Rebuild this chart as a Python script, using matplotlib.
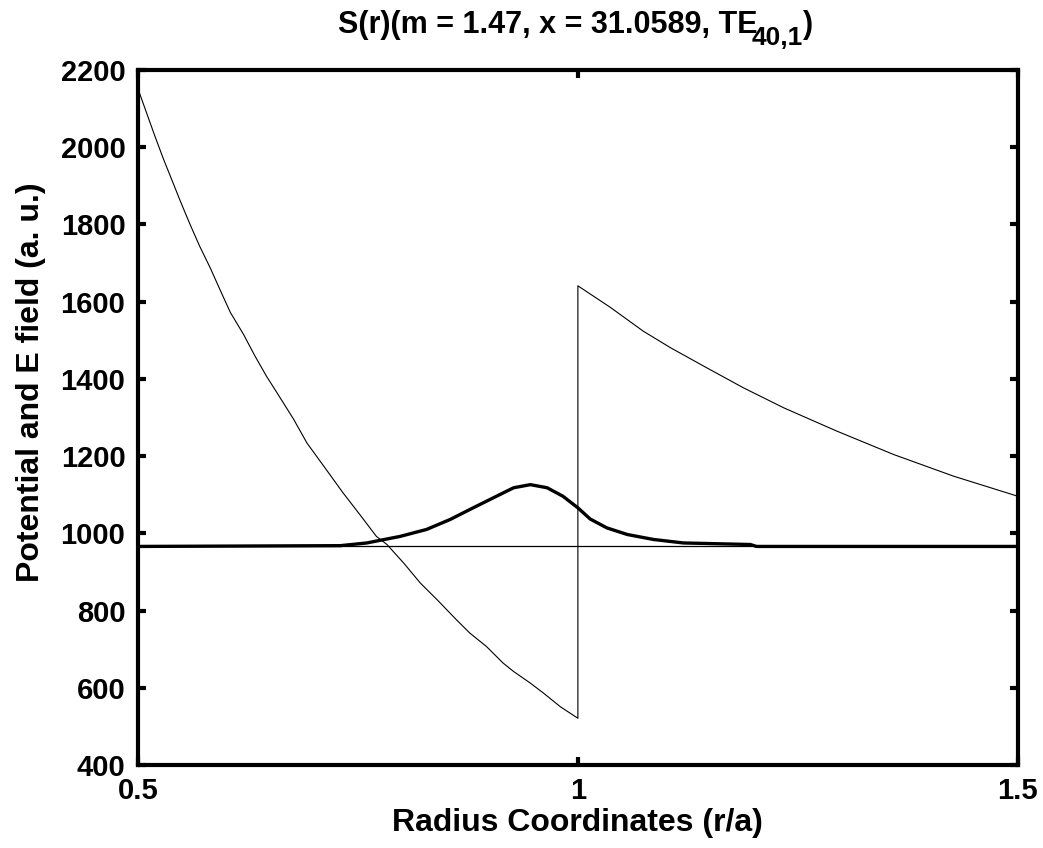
import numpy as np
import matplotlib
matplotlib.use("Agg")
import matplotlib.pyplot as plt

plt.rcParams['font.family'] = ['Liberation Sans', 'DejaVu Sans']
plt.rcParams['font.weight'] = 'bold'

# potencial (linea delgada), con salto en r/a = 1
r_pot = [0.500, 0.519, 0.529, 0.538, 0.548, 0.559, 0.570, 0.582, 0.593,
         0.605, 0.620, 0.633, 0.646, 0.658, 0.677, 0.692, 0.714, 0.733, 0.752,
         0.771, 0.783, 0.802, 0.821, 0.840, 0.862, 0.877, 0.896, 0.915, 0.927,
         0.946, 0.961, 0.980, 1.000,
         1.000, 1.037, 1.074, 1.105, 1.143, 1.188, 1.234, 1.294, 1.359, 1.427, 1.500]
v_pot = [2151, 2030, 1969, 1918, 1861, 1801, 1744, 1688, 1632,
         1572, 1515, 1459, 1407, 1364, 1295, 1234, 1165, 1105, 1049,
         992, 971, 923, 871, 828, 776, 742, 707, 664, 642,
         612, 586, 551, 521,
         1641, 1585, 1524, 1481, 1433, 1377, 1325, 1265, 1204, 1148, 1096]

# nivel del indice efectivo (linea horizontal)
neff_level = 966

# campo E (linea gruesa) sobre el nivel
r_field = [0.500, 0.730, 0.760, 0.798, 0.828, 0.855, 0.881, 0.904, 0.927, 0.946,
           0.965, 0.983, 1.000, 1.014, 1.033, 1.056, 1.086, 1.120, 1.196, 1.203, 1.500]
v_field = [966, 968, 975, 992, 1010, 1036, 1066, 1092, 1118, 1126,
           1118, 1096, 1066, 1037, 1014, 997, 984, 975, 971, 966, 966]

fig = plt.figure(figsize=(10.43, 8.48), dpi=100)
ax = fig.add_axes([0.1323, 0.0979, 0.8435, 0.8196])

ax.plot(r_pot, v_pot, color='black', linewidth=0.8)
ax.plot([0.5, 1.5], [neff_level, neff_level], color='black', linewidth=0.9)
ax.plot(r_field, v_field, color='black', linewidth=2.4)

ax.set_xlim(0.5, 1.5)
ax.set_ylim(400, 2200)
ax.set_xticks([0.5, 1, 1.5])
ax.set_xticklabels(['0.5', '1', '1.5'])
ax.set_yticks(np.arange(400, 2201, 200))

for s in ax.spines.values():
    s.set_linewidth(3)
ax.tick_params(direction='in', length=6, width=3, top=True, right=True,
               labelsize=21, pad=9)
for lab in ax.get_xticklabels() + ax.get_yticklabels():
    lab.set_fontweight('bold')

ax.set_xlabel('Radius Coordinates (r/a)', fontsize=23, fontweight='bold', labelpad=2)
ax.set_ylabel('Potential and E field (a. u.)', fontsize=23, fontweight='bold')
ax.yaxis.set_label_coords(-0.104, 0.551)

# titulo con subindice grande (estilo matlab)
base_y = 1 - 33 / 848
t1 = fig.text(338 / 1043, base_y, 'S(r)(m = 1.47, x = 31.0589, TE',
              ha='left', va='baseline', fontsize=22, fontweight='bold')
t2 = ax.annotate('40,1', xy=(1, base_y - 12 / 848), xycoords=(t1, 'figure fraction'),
                 xytext=(-4, 0), textcoords='offset points',
                 ha='left', va='baseline', fontsize=19, fontweight='bold')
t3 = ax.annotate(')', xy=(1, base_y), xycoords=(t2, 'figure fraction'),
                 ha='left', va='baseline', fontsize=22, fontweight='bold')

fig.savefig('out.png', dpi=100)
